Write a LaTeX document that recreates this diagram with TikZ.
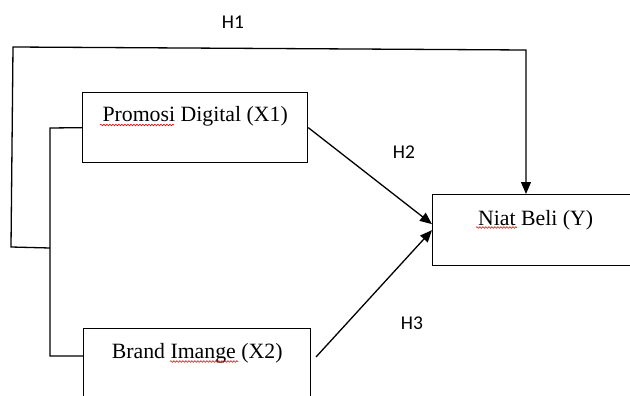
\documentclass[tikz,border=0pt]{standalone}
\usepackage{fontspec}
\setmainfont{Liberation Serif}
\newfontfamily\hfont{Carlito}
\usetikzlibrary{arrows.meta,decorations.pathmorphing,calc}
\begin{document}
\begin{tikzpicture}[x=1pt,y=-1pt,
  varbox/.style={draw,line width=1.3pt,inner xsep=0pt,inner ysep=0pt,
    font=\fontsize{21.8}{26}\selectfont,anchor=north west},
  link/.style={line width=1.3pt},
  arr/.style={link,-{Triangle[length=12pt,width=10pt]}},
  hlab/.style={font=\hfont\fontsize{19.5}{23}\selectfont},
  spell/.style={red,line width=0.6pt,decorate,
    decoration={snake,amplitude=0.8pt,segment length=3pt}}]
\useasboundingbox (0,0) rectangle (630,396);
\begin{scope}
\clip (0,0) rectangle (630,396);
% boxes
\node[varbox,minimum width=225pt,text height=29pt,text depth=41pt] (x1) at (82,92) {Promosi Digital (X1)};
\node[varbox,minimum width=227pt,text height=30pt,text depth=40pt] (x2) at (83,328) {Brand Imange (X2)};
\node[varbox,minimum width=206pt,text height=31pt,text depth=40pt] (y) at (432,194) {Niat Beli (Y)};
% spelling marks
\draw[spell] (100,125) -- (174,125);
\draw[spell] (170,361.5) -- (238,361.5);
\draw[spell] (476,227.5) -- (517,227.5);
% coordinates
\coordinate (tl) at (13,47);
\coordinate (tr) at (526,50);
\coordinate (bl) at (11,247);
\coordinate (jn) at (50,248);
\coordinate (b1) at (50,128);
\coordinate (b2) at (50,356);
\coordinate (s3) at (316,357);
% bracket
\draw[link] (x1.west) -- (b1) -- (b2) -- (b2 -| x2.west);
% H1
\draw[arr] (jn) -- (bl) -- (tl) -- (tr) -- (tr |- y.north);
% H2
\draw[arr] (x1.east) -- ($(y.west)+(0,-6)$);
% H3
\draw[arr] (s3) -- (y.west);
% labels
\node[hlab] (h1) at (233,22) {H1};
\node[hlab] (h2) at (404,152) {H2};
\node[hlab] (h3) at (412,323) {H3};
\end{scope}
\end{tikzpicture}
\end{document}
